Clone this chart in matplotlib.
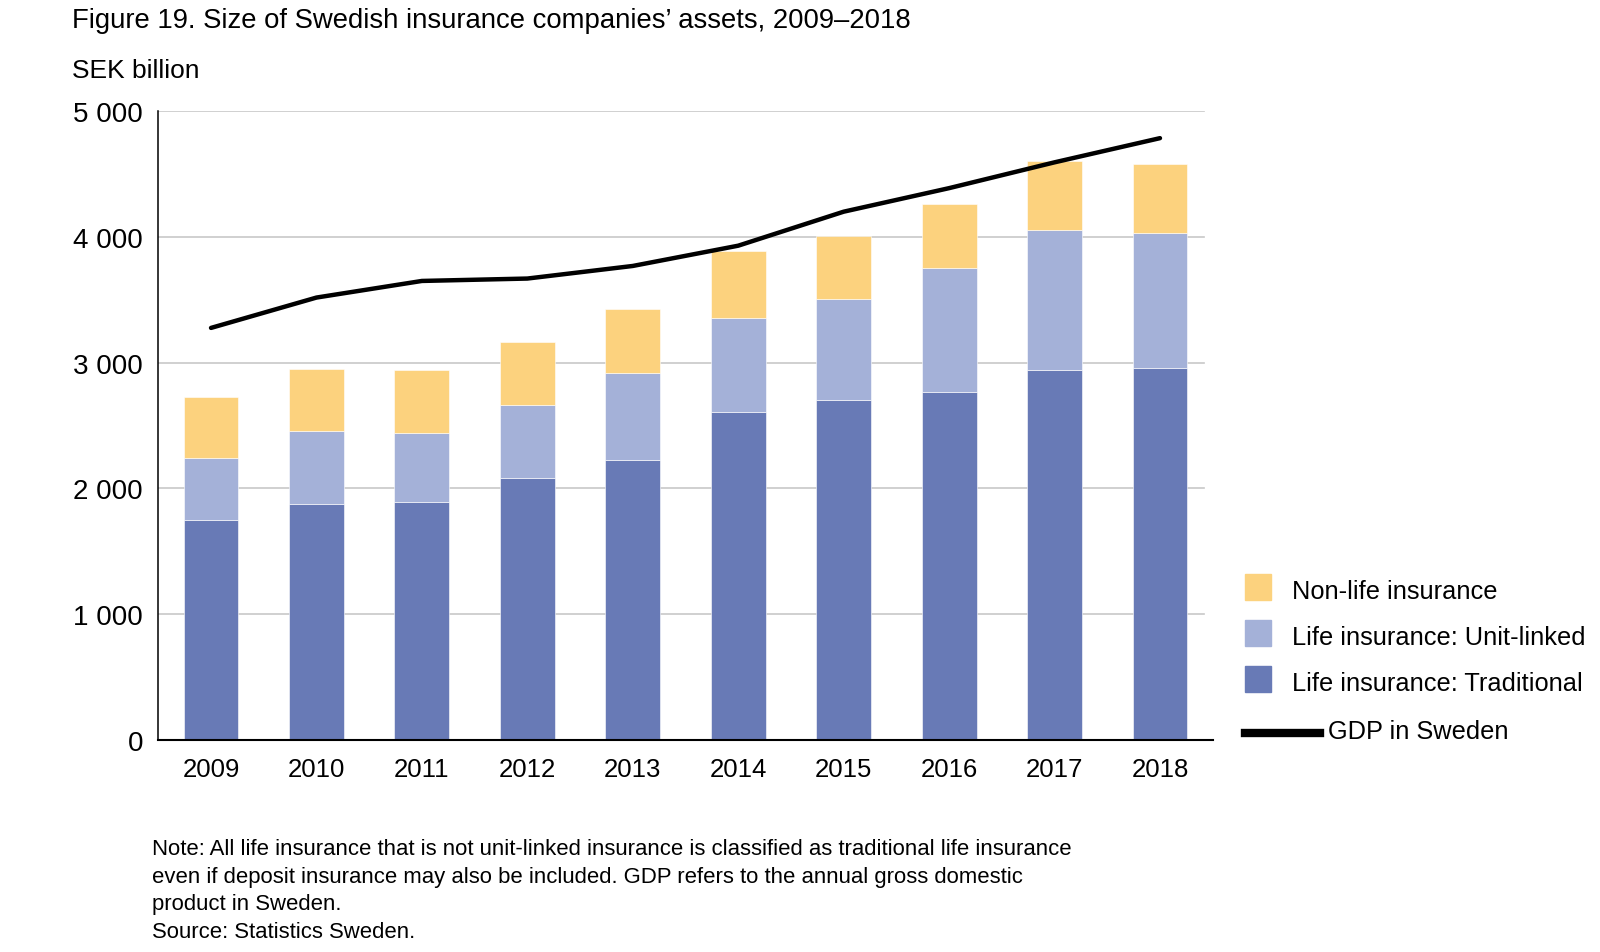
import numpy as np
import matplotlib.pyplot as plt
from matplotlib.patches import Rectangle
from matplotlib.lines import Line2D

plt.rcParams['font.family'] = ['Liberation Sans', 'DejaVu Sans']

years = ['2009', '2010', '2011', '2012', '2013', '2014', '2015', '2016', '2017', '2018']
traditional = [1752, 1875, 1891, 2082, 2224, 2606, 2706, 2764, 2944, 2955]
unit_linked = [488, 580, 550, 579, 691, 748, 799, 990, 1106, 1070]
non_life = [487, 497, 498, 500, 508, 529, 497, 508, 553, 548]
gdp = [3275, 3516, 3648, 3667, 3767, 3928, 4198, 4385, 4590, 4782]

col_trad = '#687AB6'
col_ul = '#A4B1D8'
col_nl = '#FCD27E'

W, H = 1600, 953
fig = plt.figure(figsize=(W / 100, H / 100), dpi=100)
ax = fig.add_axes([158.3 / W, 1 - 741.3 / H, (1212.7 - 158.3) / W, (741.3 - 111.7) / H])

x = np.arange(len(years))
trad = np.array(traditional)
ul = np.array(unit_linked)
nl = np.array(non_life)
bw = 0.52
ax.bar(x, trad, bw, color=col_trad, edgecolor='white', linewidth=0.4, zorder=2)
ax.bar(x, ul, bw, bottom=trad, color=col_ul, edgecolor='white', linewidth=0.4, zorder=2)
ax.bar(x, nl, bw, bottom=trad + ul, color=col_nl, edgecolor='white', linewidth=0.4, zorder=2)
ax.plot(x, gdp, color='black', lw=3.2, solid_capstyle='round', solid_joinstyle='round', zorder=3)

ax.set_xlim(-0.5, 9.5)
ax.set_ylim(0, 5000)
yt = [0, 1000, 2000, 3000, 4000, 5000]
ax.set_yticks(yt)
ax.set_yticklabels(['{:,}'.format(v).replace(',', ' ') for v in yt])
ax.set_xticks(x)
ax.set_xticklabels(years)
for v in yt[1:]:
    ax.axhline(v, xmin=0, xmax=0.992, color='#C8C8C8', lw=1.2, zorder=1)
ax.tick_params(axis='y', length=0, pad=11, labelsize=20)
ax.tick_params(axis='x', length=0, pad=12, labelsize=18.5)
for s in ['top', 'right']:
    ax.spines[s].set_visible(False)
ax.spines['left'].set_linewidth(1.1)
ax.spines['bottom'].set_linewidth(1.5)

fig.text(71.5 / W, 1 - 21 / H, "Figure 19. Size of Swedish insurance companies\u2019 assets, 2009\u20132018",
         fontsize=19.8, va='center', ha='left')
fig.text(71.5 / W, 1 - 71 / H, 'SEK billion', fontsize=19, va='center', ha='left')

# legend
rows = [(588, col_nl, 'Non-life insurance'),
        (634, col_ul, 'Life insurance: Unit-linked'),
        (680, col_trad, 'Life insurance: Traditional')]
for yc, c, lab in rows:
    fig.patches.append(Rectangle((1245 / W, 1 - (yc + 12.8) / H), 25.7 / W, 25.7 / H,
                                 transform=fig.transFigure, color=c))
    fig.text(1292 / W, 1 - (yc + 4) / H, lab, fontsize=18.3, va='center', ha='left')
fig.lines.append(Line2D([1245 / W, 1320 / W], [1 - 734 / H, 1 - 734 / H],
                        transform=fig.transFigure, color='black', lw=6))
fig.text(1328 / W, 1 - 732 / H, 'GDP in Sweden', fontsize=18.3, va='center', ha='left')

note = ['Note: All life insurance that is not unit-linked insurance is classified as traditional life insurance',
        'even if deposit insurance may also be included. GDP refers to the annual gross domestic',
        'product in Sweden.',
        'Source: Statistics Sweden.']
for i, line in enumerate(note):
    fig.text(152 / W, 1 - (850 + 27.5 * i) / H, line, fontsize=15.9, va='center', ha='left')

fig.savefig('out.png', dpi=100)
